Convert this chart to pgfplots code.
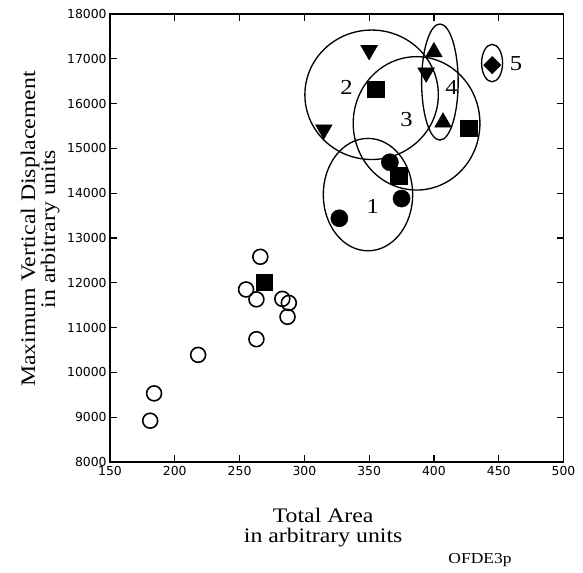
\documentclass[border=0pt]{standalone}
\usepackage{pgfplots}
\pgfplotsset{compat=1.18}
\usepackage{fontspec}
\setmainfont{Liberation Serif}[FakeStretch=1.15]
\newfontfamily\tickfont{DejaVu Sans}

\begin{document}
\begin{tikzpicture}
\begin{axis}[
    scale only axis,
    width=340pt, height=335.8pt,
    xmin=150, xmax=500,
    ymin=8000, ymax=18000,
    xtick={150,200,250,300,350,400,450,500},
    ytick={8000,9000,10000,11000,12000,13000,14000,15000,16000,17000,18000},
    scaled ticks=false,
    tick align=inside,
    major tick length=5pt,
    axis line style={line width=1.2pt},
    every tick/.style={black, line width=0.9pt},
    tick label style={font=\tickfont\fontsize{9.3}{10}\selectfont},
    yticklabel style={xshift=1pt},
    /pgf/number format/1000 sep={},
    /pgf/number format/assume math mode=true,
    clip=false,
    xlabel={Total Area\\in arbitrary units},
    xlabel style={at={(axis description cs:0.47,-0.146)}, anchor=center,
        align=center, font=\fontsize{15.5}{15}\selectfont},
    ylabel={Maximum Vertical Displacement\\in arbitrary units},
    ylabel style={at={(axis description cs:-0.154,0.52)}, anchor=center,
        align=center, font=\fontsize{15.5}{15}\selectfont},
]
% open circles
\addplot[only marks, mark=o, mark size=5.6pt, mark options={line width=1.2pt, black}]
coordinates {
    (266,12580) (255,11850) (263,11630) (283,11640) (288,11550)
    (287,11240) (263,10740) (218,10390) (184,9530) (181,8920)
};
% filled squares
\addplot[only marks, mark=square*, mark size=6.3pt, black]
coordinates {(269,12010) (355,16320) (427,15450) (373,14380)};
% filled circles
\addplot[only marks, mark=*, mark size=6.4pt, black]
coordinates {(366,14690) (375,13880) (327,13440)};
% down triangles
\addplot[only marks, mark=triangle*, mark size=7.2pt, black, mark options={rotate=180}]
coordinates {(350,17190) (394,16690) (315,15420)};
% up triangles
\addplot[only marks, mark=triangle*, mark size=7.2pt, black]
coordinates {(400,17150) (407,15580)};
% diamond
\addplot[only marks, mark=square*, mark size=4.6pt, black, mark options={rotate=45}]
coordinates {(445,16860)};

% cluster outlines
\draw[line width=1pt] (axis cs:349.1,13968) ellipse [x radius=34.5, y radius=1255];
\draw[line width=1pt] (axis cs:351.9,16197) ellipse [x radius=51.5, y radius=1445];
\draw[line width=1pt] (axis cs:386.6,15559) ellipse [x radius=48.9, y radius=1489];
\draw[line width=1pt] (axis cs:404.6,16481) ellipse [x radius=14.1, y radius=1296];
\draw[line width=1pt] (axis cs:444.9,16905) ellipse [x radius=8.1, y radius=418];

\node[font=\fontsize{16}{16}\selectfont] at (axis cs:352.7,13696) {1};
\node[font=\fontsize{16}{16}\selectfont] at (axis cs:332.6,16363) {2};
\node[font=\fontsize{16}{16}\selectfont] at (axis cs:378.9,15648) {3};
\node[font=\fontsize{16}{16}\selectfont] at (axis cs:413.6,16363) {4};
\node[font=\fontsize{16}{16}\selectfont] at (axis cs:463.3,16899) {5};

\node[font=\fontsize{11.4}{12}\selectfont] at (rel axis cs:0.816,-0.2196) {OFDE3p};

% page frame matching the reference margins
\path (rel axis cs:-0.2426,-0.2464) rectangle (rel axis cs:1.043,1.0313);
\end{axis}
\end{tikzpicture}
\end{document}
